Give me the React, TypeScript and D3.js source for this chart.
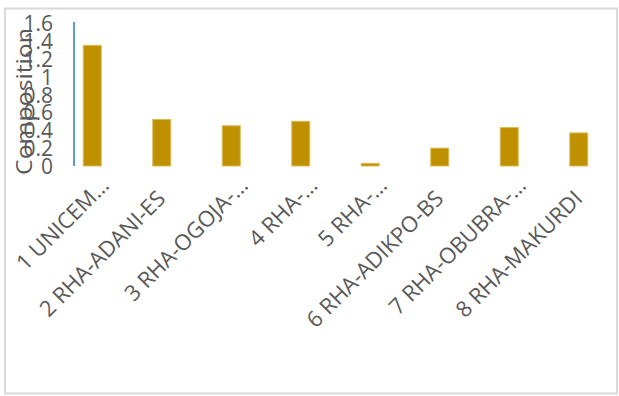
import React from "react";
import * as d3 from "d3";

const categories = [
  "1 UNICEM…",
  "2 RHA-ADANI-ES",
  "3 RHA-OGOJA-…",
  "4 RHA-…",
  "5 RHA-…",
  "6 RHA-ADIKPO-BS",
  "7 RHA-OBUBRA-…",
  "8 RHA-MAKURDI",
];
const values = [1.35, 0.52, 0.45, 0.5, 0.03, 0.2, 0.43, 0.37];
const yTicks = [0, 0.2, 0.4, 0.6, 0.8, 1, 1.2, 1.4, 1.6];
const yTitle = "Composition";

const W = 619;
const H = 396;
const FONT = "'Open Sans', sans-serif";
const TEXT = "#595959";

export default function App() {
  const x = d3
    .scaleBand<string>()
    .domain(categories)
    .range([57.5, 613.5])
    .paddingInner(1 - 18 / 69.5)
    .paddingOuter((1 - 18 / 69.5) / 2);
  const y = d3.scaleLinear().domain([0, 1.6]).range([166, 23]);

  return (
    <svg
      width={W}
      height={H}
      style={{ position: "absolute", left: 0, top: 0, background: "#fff" }}
    >
      <rect x={0} y={0} width={W} height={H} fill="#fff" />
      <rect
        x={5}
        y={8.5}
        width={612}
        height={385}
        fill="none"
        stroke="#d9d9d9"
        strokeWidth={2}
      />
      {/* y tick labels */}
      {yTicks.map((t) => (
        <text
          key={t}
          x={53}
          y={y(t)}
          textAnchor="end"
          dominantBaseline="central"
          fontFamily={FONT}
          fontSize={21}
          fill={TEXT}
        >
          {d3.format("~g")(t)}
        </text>
      ))}
      {/* y title */}
      <text
        transform={`translate(31.5, ${(y(0) + y(1.6)) / 2 + 7}) rotate(-90)`}
        textAnchor="middle"
        fontFamily={FONT}
        fontSize={21}
        fill={TEXT}
        textLength={147}
        lengthAdjust="spacingAndGlyphs"
      >
        {yTitle}
      </text>
      {/* axis line */}
      <line
        x1={74}
        x2={74}
        y1={y(1.6) - 1}
        y2={y(0)}
        stroke="#5B9BD5"
        strokeWidth={2}
      />
      {/* bars */}
      {categories.map((c, i) => (
        <rect
          key={c}
          x={x(c)!}
          y={y(values[i])}
          width={x.bandwidth()}
          height={y(0) - y(values[i])}
          fill="#BF9000"
          stroke="#DDBB55"
          strokeWidth={1}
        />
      ))}
      {/* x labels */}
      {categories.map((c) => {
        const cx = x(c)! + x.bandwidth() / 2;
        const trunc = c.endsWith("…");
        const ax = cx + (trunc ? 18 : 5);
        const ay = trunc ? 187 : 200;
        return (
          <text
            key={c}
            transform={`translate(${ax}, ${ay}) rotate(-45)`}
            textAnchor="end"
            fontFamily={FONT}
            fontSize={22}
            fill={TEXT}
          >
            {c}
          </text>
        );
      })}
    </svg>
  );
}
